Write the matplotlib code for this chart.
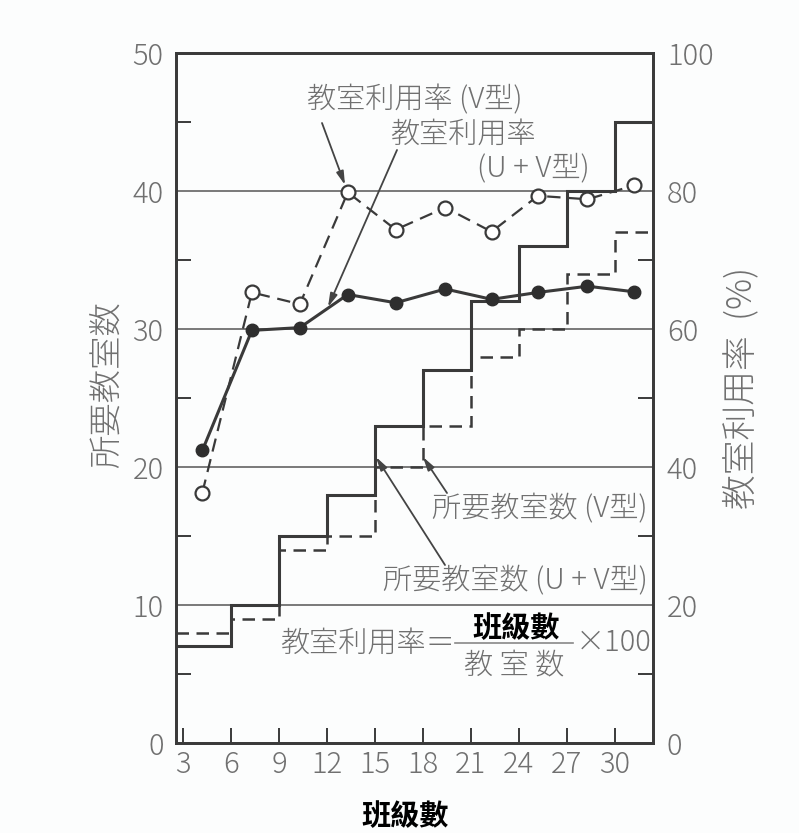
import numpy as np
import matplotlib
matplotlib.use("Agg")
from matplotlib import pyplot as plt
from matplotlib.lines import Line2D

plt.rcParams['font.family'] = ['Noto Sans CJK JP', 'DejaVu Sans']
plt.rcParams['font.weight'] = 'light'

# ---------------- data ----------------
class_edges = [3, 6, 9, 12, 15, 18, 21, 24, 27, 30, 33]
rooms_uv = [7, 10, 15, 18, 23, 27, 32, 36, 40, 45]      # 所要教室数(U+V型), solid
rooms_v = [8, 9, 14, 15, 20, 23, 28, 30, 34, 37]        # 所要教室数(V型), dashed

classes_pts = [4.2, 7.3, 10.3, 13.3, 16.3, 19.4, 22.3, 25.2, 28.3, 31.2]
rate_v = [36.3, 65.3, 63.6, 79.8, 74.4, 77.6, 74.1, 79.3, 78.8, 80.8]   # open circles
rate_uv = [42.4, 59.8, 60.2, 65.0, 63.8, 65.8, 64.3, 65.3, 66.2, 65.4]  # filled circles

x_ticks = [3, 6, 9, 12, 15, 18, 21, 24, 27, 30]
left_ticks = [0, 10, 20, 30, 40, 50]
right_ticks = [0, 20, 40, 60, 80, 100]

ink = '#3a3a3a'
gray_txt = '#707070'
W, H = 799, 833

fig = plt.figure(figsize=(W / 100, H / 100), dpi=100)
fig.patch.set_facecolor('#fcfdfd')
ax = fig.add_axes([176 / W, 1 - 743 / H, (653 - 176) / W, (743 - 53) / H])
ax.set_facecolor('none')
ax2 = ax.twinx()

xmin, xmax = 2.55, 32.4
ax.set_xlim(xmin, xmax)
ax.set_ylim(0, 50)
ax2.set_ylim(0, 100)

# horizontal rules
for v in left_ticks[1:-1]:
    ax.axhline(v, color='#555555', lw=1.1, zorder=1)

# staircases
edges = list(class_edges)
edges[0] = xmin
ax.stairs(rooms_uv, edges, baseline=None, color=ink, lw=2.2, zorder=3)
ax.stairs(rooms_v, edges, baseline=None, color=ink, lw=1.8, ls=(0, (5, 3)), zorder=3)

# utilisation curves (right axis)
ax2.plot(classes_pts, rate_v, color=ink, lw=1.6, ls=(0, (6, 3.5)), marker='o',
         ms=10, mfc='white', mec=ink, mew=1.6, zorder=4)
ax2.plot(classes_pts, rate_uv, color=ink, lw=2.2, marker='o', ms=9,
         mfc='#2e2e2e', mec='#2e2e2e', zorder=5)

# ticks
ax.set_xticks(x_ticks)
ax.set_yticks(left_ticks)
ax.set_yticks([5, 15, 25, 35, 45], minor=True)
ax.tick_params(axis='x', direction='in', length=11, width=1.4, color=ink,
               labelsize=21, labelcolor=gray_txt, pad=5)
ax.tick_params(axis='y', which='major', length=0, labelsize=21,
               labelcolor=gray_txt, pad=9)
ax.tick_params(axis='y', which='minor', direction='in', length=11, width=1.4,
               color=ink, left=True, right=False)
ax2.set_yticks(right_ticks)
ax2.set_yticks([10, 30, 50, 70, 90], minor=True)
ax2.tick_params(axis='y', which='major', length=0, labelsize=21,
                labelcolor=gray_txt, pad=10)
ax2.tick_params(axis='y', which='minor', direction='in', length=11, width=1.4,
                color=ink)
for a in (ax, ax2):
    for s in a.spines.values():
        s.set_color(ink)
        s.set_linewidth(2.0)


def fx(px):
    return px / W


def fy(py):
    return 1 - py / H


# axis titles
fig.text(fx(107), fy(385), '所要教室数', rotation=90, ha='center', va='center',
         fontsize=24, color=gray_txt)
fig.text(fx(741), fy(388), '教室利用率  (%)', rotation=90, ha='center', va='center',
         fontsize=25, color=gray_txt)
fig.text(fx(405), fy(816), '班級數', ha='center', va='center', fontsize=21,
         color='black', fontweight='bold', family=['Noto Sans CJK TC', 'DejaVu Sans'])

# labels with arrows
arrow = dict(arrowstyle='-|>,head_length=0.8,head_width=0.22', color='#444444',
             lw=1.3, shrinkA=0, shrinkB=0)


def label_arrow(text, tpos, tail, head):
    fig.text(fx(tpos[0]), fy(tpos[1]), text, ha='center', va='center',
             fontsize=21, color=gray_txt)
    ax.annotate('', xy=(fx(head[0]), fy(head[1])), xycoords='figure fraction',
                xytext=(fx(tail[0]), fy(tail[1])), textcoords='figure fraction',
                arrowprops=arrow)


label_arrow('教室利用率 (V型)', (415, 100), (322, 123), (345, 185))
fig.text(fx(463), fy(134), '教室利用率', ha='center', va='center', fontsize=21,
         color=gray_txt)
label_arrow('(U + V型)', (533, 168), (397, 150), (328, 307))
label_arrow('所要教室数 (V型)', (540, 509), (447, 493), (423, 457))
label_arrow('所要教室数 (U + V型)', (515, 581), (445, 565), (376, 457))

# formula
fig.text(fx(455), fy(643), '教室利用率＝', ha='right', va='center', fontsize=21,
         color=gray_txt)
fig.text(fx(516), fy(628), '班級數', ha='center', va='center', fontsize=21,
         color='black', fontweight='bold', family=['Noto Sans CJK TC', 'DejaVu Sans'])
fig.add_artist(Line2D([fx(455), fx(573)], [fy(643), fy(643)], color='#888888', lw=1.2))
fig.text(fx(514), fy(665), '教 室 数', ha='center', va='center', fontsize=21,
         color=gray_txt)
fig.text(fx(576), fy(643), '×100', ha='left', va='center', fontsize=21,
         color=gray_txt)

fig.savefig('out.png', dpi=100, facecolor=fig.get_facecolor())
